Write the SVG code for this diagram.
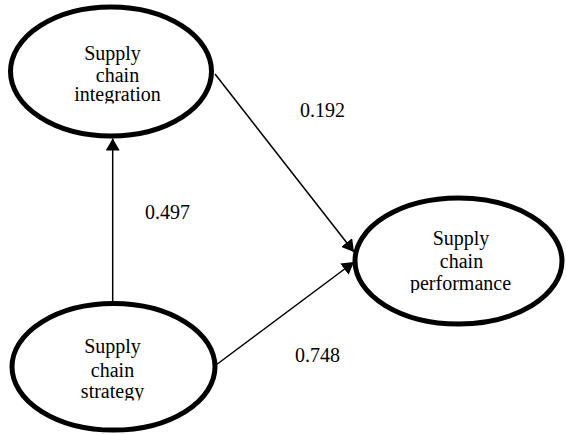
<svg xmlns="http://www.w3.org/2000/svg" width="566" height="434" viewBox="0 0 566 434">
  <style>
    .node { fill: #ffffff; stroke: #000000; stroke-width: 5; }
    .lbl { font-family: 'Liberation Serif', 'Times New Roman', 'DejaVu Serif', serif; font-size: 20px; fill: #000000; text-anchor: middle; }
    .edge { stroke: #000000; stroke-width: 1.5; fill: none; }
    .num { font-family: 'Liberation Serif', 'Times New Roman', 'DejaVu Serif', serif; font-size: 20px; fill: #000000; }
  </style>
  <defs>
    <marker id="arrow" viewBox="0 0 12 14" refX="12" refY="7" markerWidth="12" markerHeight="14" markerUnits="userSpaceOnUse" orient="auto">
      <path d="M0,0 L12,7 L0,14 Z" fill="#000000"/>
    </marker>
    <clipPath id="clipTop"><rect x="0" y="0" width="566" height="103.5"/></clipPath>
    <clipPath id="clipRight"><rect x="0" y="0" width="566" height="293"/></clipPath>
    <clipPath id="clipBottom"><rect x="0" y="0" width="566" height="400.5"/></clipPath>
  </defs>
  <rect width="566" height="434" fill="#ffffff"/>

  <g id="connectors">
    <line class="edge" x1="112.7" y1="302" x2="112.7" y2="138.5" marker-end="url(#arrow)"/>
    <line class="edge" x1="215" y1="74" x2="354" y2="252" marker-end="url(#arrow)"/>
    <line class="edge" x1="216" y1="365" x2="354" y2="262" marker-end="url(#arrow)"/>
    <text class="num" font-family="Liberation Serif, serif" x="300" y="117">0.192</text>
    <text class="num" font-family="Liberation Serif, serif" x="145" y="219">0.497</text>
    <text class="num" font-family="Liberation Serif, serif" x="295" y="362">0.748</text>
  </g>

  <g id="node-integration">
    <ellipse class="node" cx="111" cy="71.5" rx="100.5" ry="64.5"/>
    <g clip-path="url(#clipTop)" font-family="Liberation Serif, serif">
      <text class="lbl" x="112.5" y="60">Supply</text>
      <text class="lbl" x="117.5" y="81.5">chain</text>
      <text class="lbl" x="117.5" y="101">integration</text>
    </g>
  </g>

  <g id="node-performance">
    <ellipse class="node" cx="458.5" cy="261" rx="103.5" ry="63"/>
    <g clip-path="url(#clipRight)" font-family="Liberation Serif, serif">
      <text class="lbl" x="461" y="245">Supply</text>
      <text class="lbl" x="461.5" y="268">chain</text>
      <text class="lbl" x="460.5" y="290">performance</text>
    </g>
  </g>

  <g id="node-strategy">
    <ellipse class="node" cx="113.5" cy="366.8" rx="101.5" ry="63.3"/>
    <g clip-path="url(#clipBottom)" font-family="Liberation Serif, serif">
      <text class="lbl" x="112.5" y="353.3">Supply</text>
      <text class="lbl" x="112.5" y="376.7">chain</text>
      <text class="lbl" x="112.5" y="398.3">strategy</text>
    </g>
  </g>
</svg>
